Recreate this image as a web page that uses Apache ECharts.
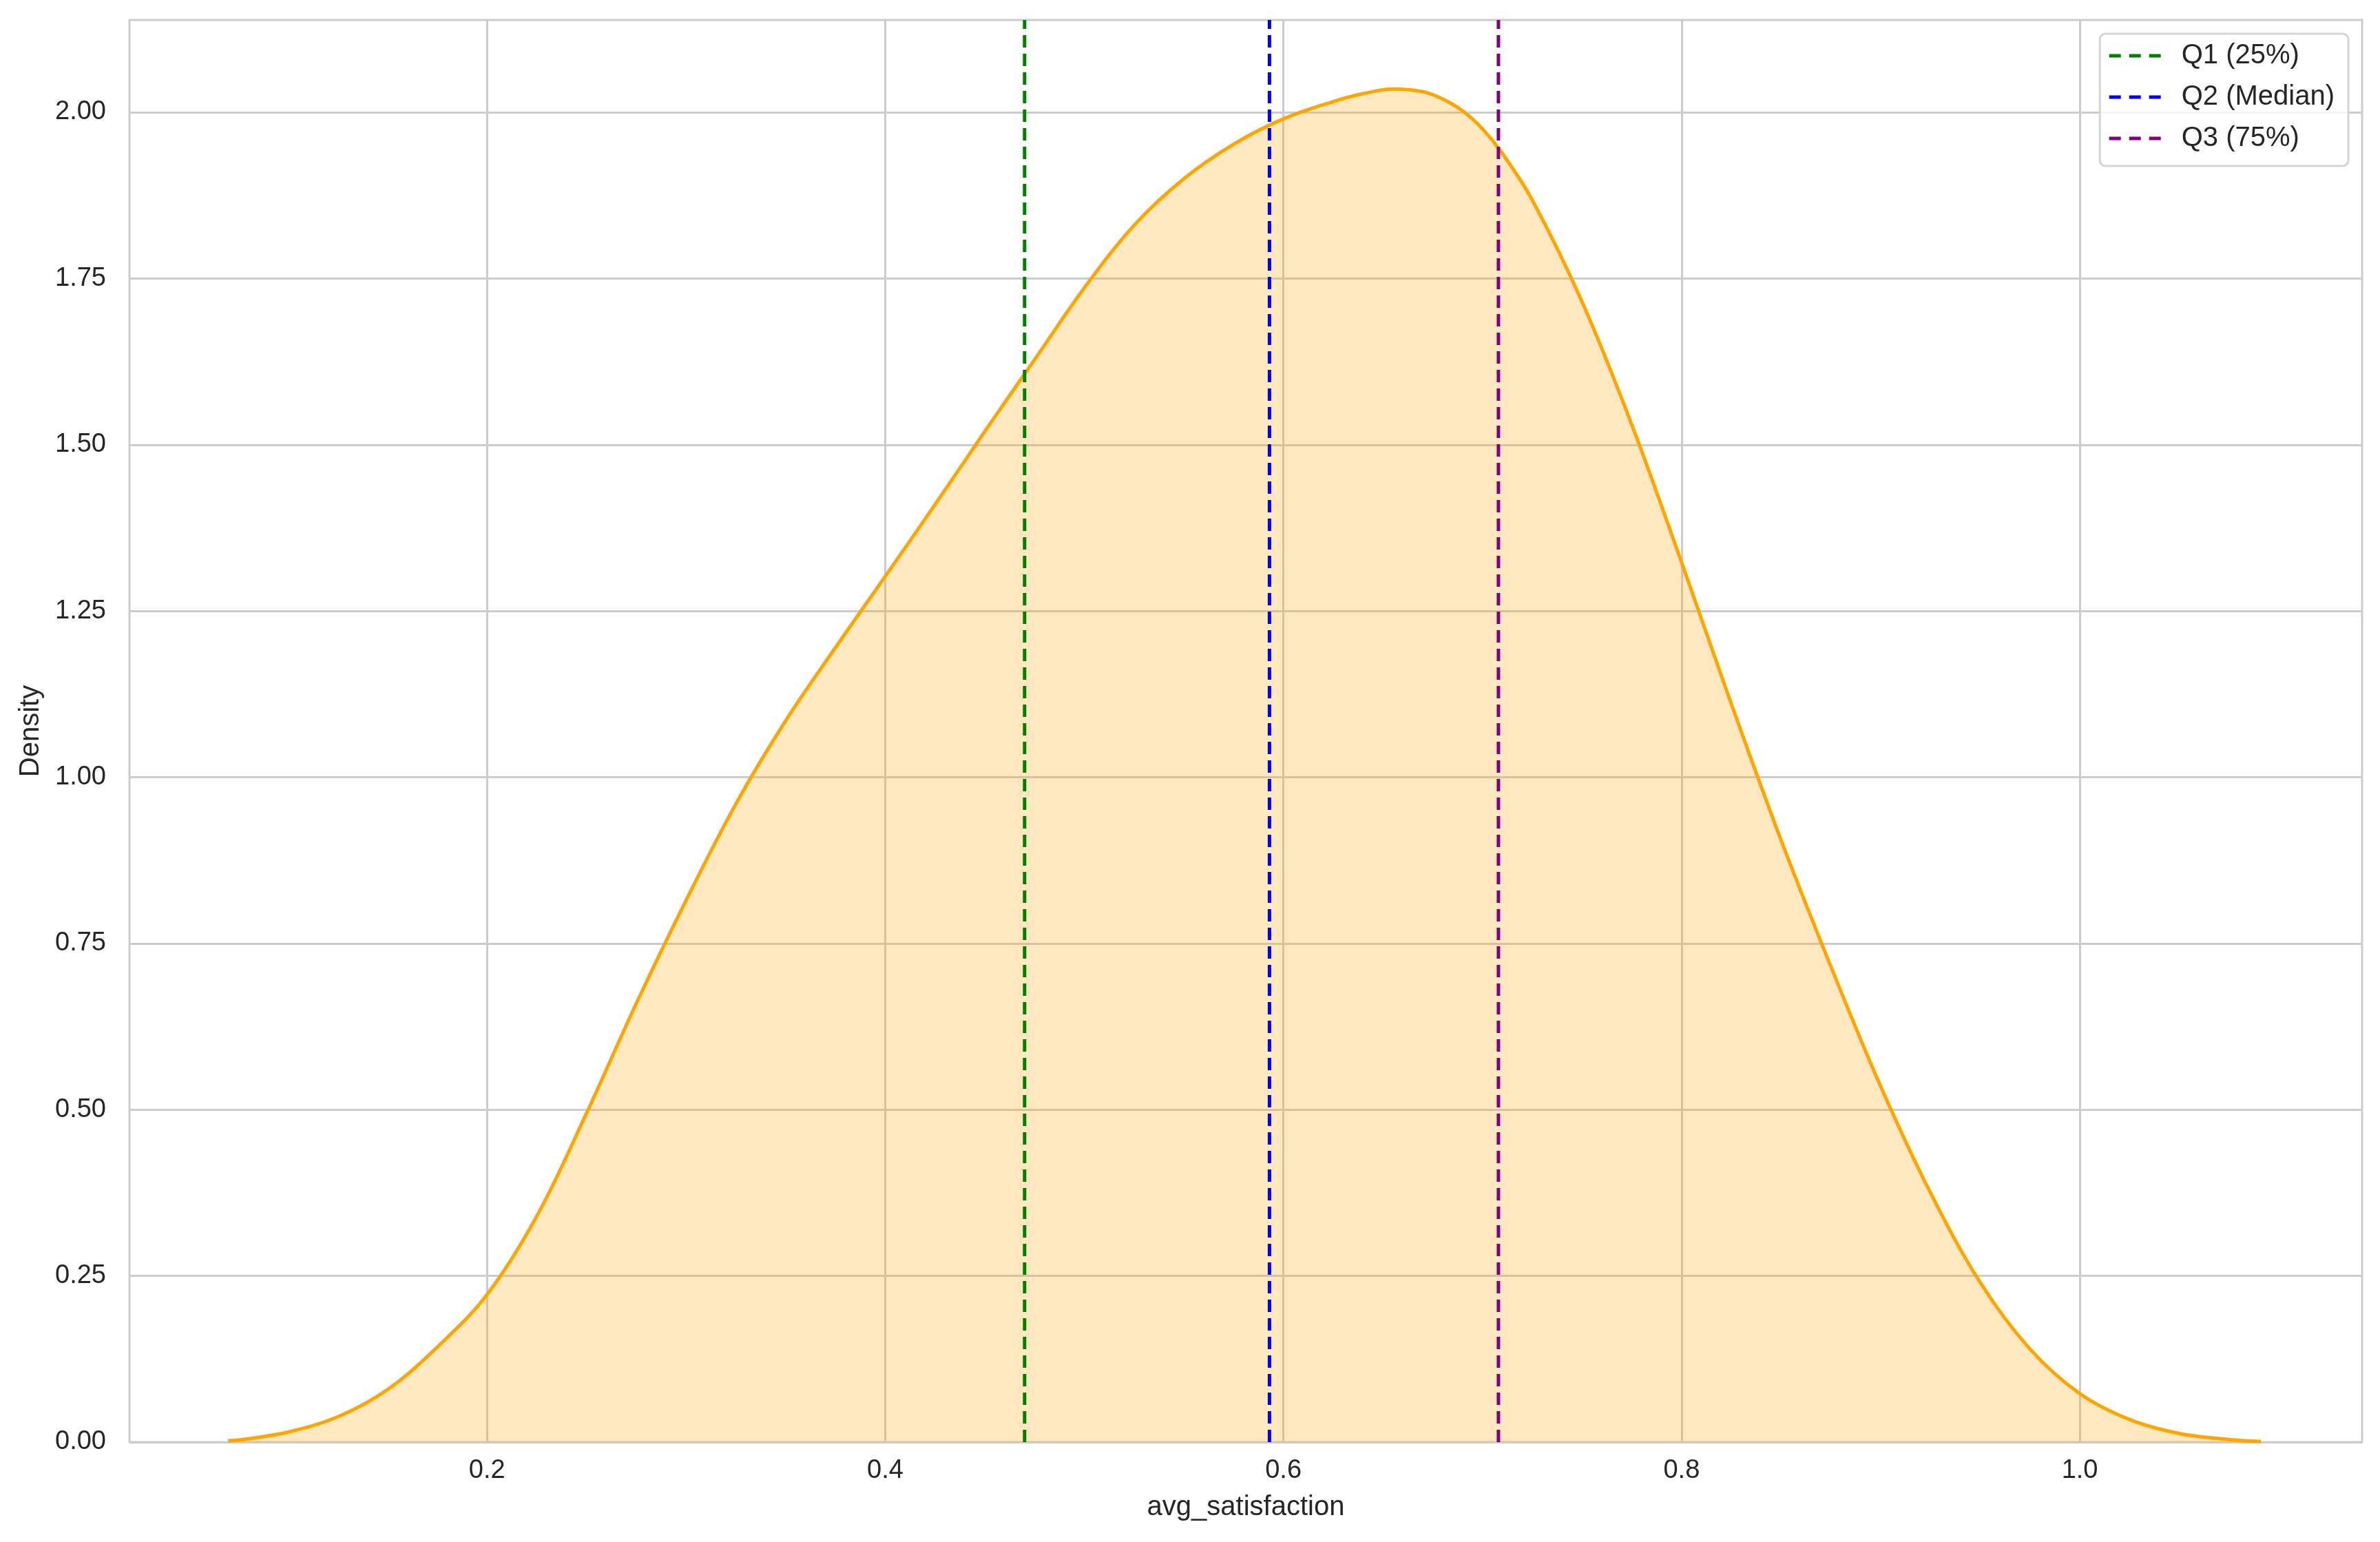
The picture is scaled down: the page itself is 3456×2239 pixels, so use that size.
<!DOCTYPE html>
<html>
<head>
<meta charset="utf-8">
<title>avg_satisfaction density</title>
<script src="https://cdn.jsdelivr.net/npm/echarts@6/dist/echarts.min.js"></script>
<style>
  html, body { margin: 0; padding: 0; background: #fff; }
  #chart { width: 3456px; height: 2239px; }
</style>
</head>
<body>
<div id="chart"></div>
<script>
// KDE curve
const kdeX = [0.070, 0.080, 0.100, 0.125, 0.150, 0.175, 0.200, 0.225, 0.250, 0.275,
  0.300, 0.325, 0.350, 0.375, 0.400, 0.425, 0.450, 0.475, 0.500, 0.525,
  0.550, 0.575, 0.600, 0.625, 0.640, 0.655, 0.670, 0.680, 0.690, 0.700,
  0.710, 0.725, 0.750, 0.775, 0.800, 0.825, 0.850, 0.875, 0.900, 0.925,
  0.950, 0.975, 1.000, 1.025, 1.050, 1.075, 1.091];
const kdeY = [0.002, 0.005, 0.015, 0.038, 0.079, 0.143, 0.222, 0.340, 0.495, 0.660,
  0.815, 0.960, 1.085, 1.195, 1.302, 1.410, 1.520, 1.628, 1.736, 1.830,
  1.900, 1.952, 1.990, 2.016, 2.028, 2.035, 2.031, 2.020, 2.002, 1.975,
  1.938, 1.868, 1.715, 1.530, 1.323, 1.110, 0.905, 0.715, 0.535, 0.375,
  0.240, 0.140, 0.073, 0.034, 0.013, 0.004, 0.001];

const quartileNames = ['Q1 (25%)', 'Q2 (Median)', 'Q3 (75%)'];
const quartileValues = [0.470, 0.593, 0.708];
const quartileColors = ['#008000', '#0000ff', '#800080'];

const xTicks = [0.2, 0.4, 0.6, 0.8, 1.0];
const yTicks = [0, 0.25, 0.5, 0.75, 1.0, 1.25, 1.5, 1.75, 2.0];

const X_MIN = 0.0204, X_MAX = 1.1418;
const Y_MIN = 0, Y_MAX = 2.1388;

const chart = echarts.init(document.getElementById('chart'));

const kdeData = kdeX.map((x, i) => [x, kdeY[i]]);

const quartileSeries = quartileValues.map((q, i) => ({
  name: quartileNames[i],
  type: 'line',
  data: [[q, Y_MIN], [q, Y_MAX]],
  symbol: 'none',
  silent: true,
  z: 5,
  lineStyle: { color: quartileColors[i], width: 5, type: [18, 9] },
  itemStyle: { color: quartileColors[i] }
}));

const option = {
  animation: false,
  backgroundColor: '#ffffff',
  textStyle: { fontFamily: 'Liberation Sans, Arial, sans-serif' },
  grid: {
    left: 188, right: 26, top: 29, bottom: 145,
    show: true, borderColor: '#cccccc', borderWidth: 3, backgroundColor: 'transparent'
  },
  legend: {
    data: quartileNames,
    orient: 'vertical',
    right: 46, top: 49,
    itemWidth: 84, itemHeight: 37, itemGap: 20,
    padding: [12, 20, 20, 11],
    backgroundColor: 'rgba(255,255,255,0.8)',
    borderColor: '#d4d4d4', borderWidth: 3, borderRadius: 8,
    // hide the circle marker, keep just the dashed line
    itemStyle: { color: 'rgba(0,0,0,0)', borderWidth: 0, opacity: 0 },
    lineStyle: { width: 5, type: [17, 12] },
    textStyle: { fontSize: 40, color: '#262626', padding: [0, 0, 0, 16] }
  },
  xAxis: {
    type: 'value',
    min: X_MIN, max: X_MAX,
    name: 'avg_satisfaction',
    nameLocation: 'middle', nameGap: 75,
    nameTextStyle: { fontSize: 40, color: '#262626' },
    axisLine: { show: false },
    axisTick: { show: false, customValues: xTicks },
    axisLabel: {
      customValues: xTicks, fontSize: 38, color: '#262626', margin: 23,
      formatter: v => v.toFixed(1)
    },
    splitLine: { show: true, lineStyle: { color: '#cccccc', width: 3 } }
  },
  yAxis: {
    type: 'value',
    min: Y_MIN, max: Y_MAX,
    name: 'Density',
    nameLocation: 'middle', nameGap: 123,
    nameTextStyle: { fontSize: 40, color: '#262626' },
    axisLine: { show: false },
    axisTick: { show: false, customValues: yTicks },
    axisLabel: {
      customValues: yTicks, fontSize: 38, color: '#262626', margin: 34,
      formatter: v => v.toFixed(2)
    },
    splitLine: { show: true, lineStyle: { color: '#cccccc', width: 3 } }
  },
  series: [
    {
      name: 'kde',
      type: 'line',
      data: kdeData,
      smooth: 0.35,
      symbol: 'none',
      silent: true,
      z: 3,
      lineStyle: { color: '#ffa500', width: 5 },
      areaStyle: { color: '#ffa500', opacity: 0.25, origin: 'start' }
    }
  ].concat(quartileSeries)
};

chart.setOption(option);
</script>
</body>
</html>
